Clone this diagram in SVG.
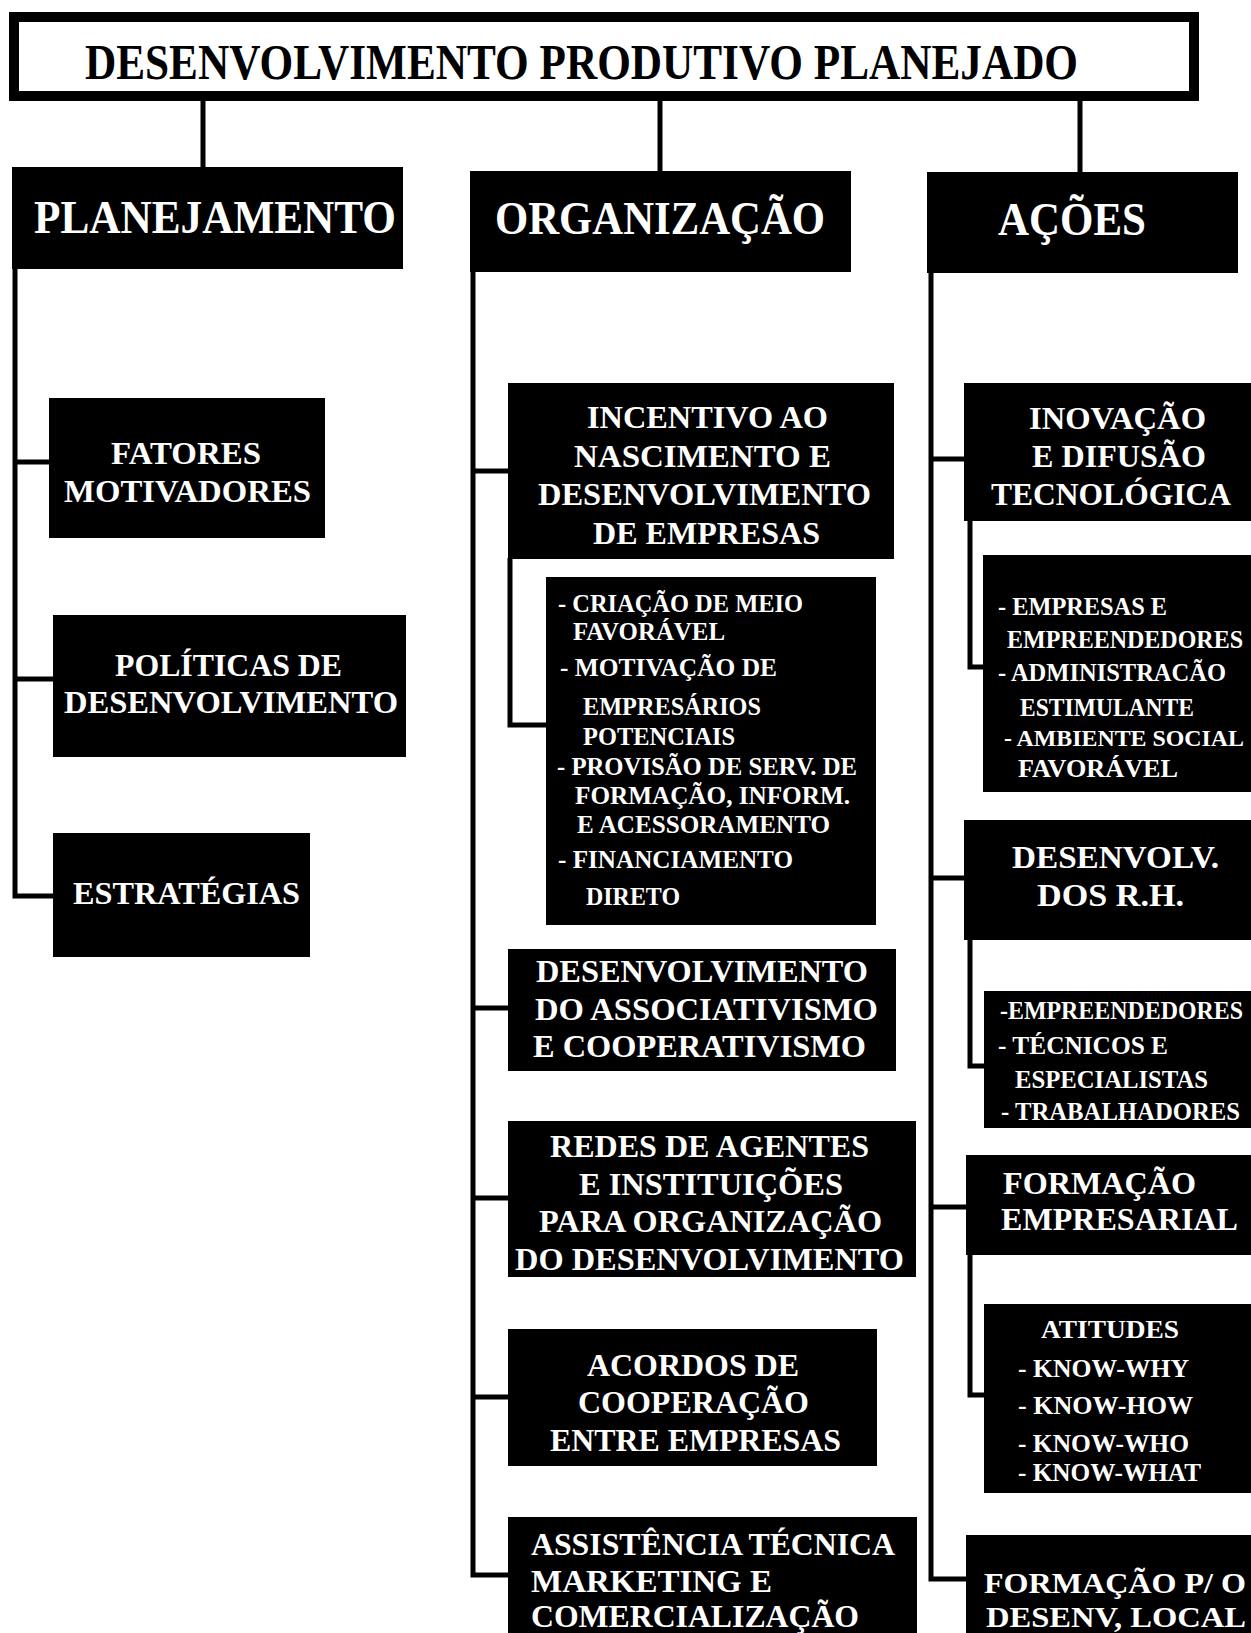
<svg xmlns="http://www.w3.org/2000/svg" width="1251" height="1633" viewBox="0 0 1251 1633">
<style>
.box{fill:#000}
.t{font-family:"Liberation Serif","Times New Roman",serif;font-weight:bold;fill:#fff}
.h{font-size:46px}
.m{font-size:32px}
.s{font-size:25px}
.conn{stroke:#000;stroke-width:5;fill:none}
</style>
<rect width="1251" height="1633" fill="#fff"/>
<g id="connectors">
<path class="conn" d="M203,100 V168 M660,100 V172 M1080,100 V172"/>
<path class="conn" d="M15,268 V896 H54 M15,462 H50 M15,679 H54"/>
<path class="conn" d="M473,271 V1575 H509 M473,471 H509 M473,1008 H509 M473,1198 H509 M473,1397 H509"/>
<path class="conn" d="M510,558 V725 H547"/>
<path class="conn" d="M931,272 V1579 H967 M931,459 H965 M931,878 H965 M931,1207 H967"/>
<path class="conn" d="M970,520 V667 H984 M970,939 V1066 H985 M970,1254 V1395 H985"/>
</g>
<g id="title">
<rect x="14" y="17" width="1180" height="79" fill="#fff" stroke="#000" stroke-width="10"/>
<text x="85" y="79" font-family="Liberation Serif, Times New Roman, serif" font-weight="bold" font-size="50" fill="#000" textLength="993" lengthAdjust="spacingAndGlyphs">DESENVOLVIMENTO PRODUTIVO PLANEJADO</text>
</g>
<g id="planejamento">
<rect class="box" x="12" y="167" width="391" height="102"/>
<text class="t h" x="34" y="233" textLength="362" lengthAdjust="spacingAndGlyphs">PLANEJAMENTO</text>
</g>
<g id="organizacao">
<rect class="box" x="470" y="171" width="381" height="101"/>
<text class="t h" x="495" y="234" textLength="330" lengthAdjust="spacingAndGlyphs">ORGANIZAÇÃO</text>
</g>
<g id="acoes">
<rect class="box" x="927" y="172" width="311" height="101"/>
<text class="t h" x="998" y="235" textLength="148" lengthAdjust="spacingAndGlyphs">AÇÕES</text>
</g>
<g id="fatores">
<rect class="box" x="49" y="398" width="276" height="140"/>
<text class="t m" x="111" y="464" textLength="150" lengthAdjust="spacingAndGlyphs">FATORES</text>
<text class="t m" x="64" y="502" textLength="247" lengthAdjust="spacingAndGlyphs">MOTIVADORES</text>
</g>
<g id="politicas">
<rect class="box" x="53" y="615" width="353" height="142"/>
<text class="t m" x="115" y="676" textLength="227" lengthAdjust="spacingAndGlyphs">POLÍTICAS DE</text>
<text class="t m" x="64" y="713" textLength="334" lengthAdjust="spacingAndGlyphs">DESENVOLVIMENTO</text>
</g>
<g id="estrategias">
<rect class="box" x="53" y="833" width="257" height="124"/>
<text class="t m" x="73" y="904" textLength="227" lengthAdjust="spacingAndGlyphs">ESTRATÉGIAS</text>
</g>
<g id="incentivo">
<rect class="box" x="508" y="383" width="386" height="176"/>
<text class="t m" x="587" y="428" textLength="241" lengthAdjust="spacingAndGlyphs">INCENTIVO AO</text>
<text class="t m" x="574" y="467" textLength="257" lengthAdjust="spacingAndGlyphs">NASCIMENTO  E</text>
<text class="t m" x="538" y="505" textLength="333" lengthAdjust="spacingAndGlyphs">DESENVOLVIMENTO</text>
<text class="t m" x="593" y="544" textLength="227" lengthAdjust="spacingAndGlyphs">DE EMPRESAS</text>
</g>
<g id="incentivo-itens">
<rect class="box" x="546" y="577" width="330" height="348"/>
<text class="t s" x="558" y="612" textLength="245" lengthAdjust="spacingAndGlyphs">- CRIAÇÃO DE MEIO</text>
<text class="t s" x="573" y="640" textLength="152" lengthAdjust="spacingAndGlyphs">FAVORÁVEL</text>
<text class="t s" x="560" y="676" textLength="217" lengthAdjust="spacingAndGlyphs">- MOTIVAÇÃO DE</text>
<text class="t s" x="583" y="715" textLength="178" lengthAdjust="spacingAndGlyphs">EMPRESÁRIOS</text>
<text class="t s" x="583" y="745" textLength="152" lengthAdjust="spacingAndGlyphs">POTENCIAIS</text>
<text class="t s" x="557" y="775" textLength="300" lengthAdjust="spacingAndGlyphs">- PROVISÃO DE SERV. DE</text>
<text class="t s" x="575" y="804" textLength="275" lengthAdjust="spacingAndGlyphs">FORMAÇÃO,  INFORM.</text>
<text class="t s" x="577" y="833" textLength="253" lengthAdjust="spacingAndGlyphs">E  ACESSORAMENTO</text>
<text class="t s" x="558" y="868" textLength="235" lengthAdjust="spacingAndGlyphs">- FINANCIAMENTO</text>
<text class="t s" x="586" y="905" textLength="94" lengthAdjust="spacingAndGlyphs">DIRETO</text>
</g>
<g id="associativismo">
<rect class="box" x="508" y="949" width="388" height="122"/>
<text class="t m" x="536" y="982" textLength="332" lengthAdjust="spacingAndGlyphs">DESENVOLVIMENTO</text>
<text class="t m" x="535" y="1020" textLength="343" lengthAdjust="spacingAndGlyphs">DO ASSOCIATIVISMO</text>
<text class="t m" x="533" y="1057" textLength="333" lengthAdjust="spacingAndGlyphs">E COOPERATIVISMO</text>
</g>
<g id="redes">
<rect class="box" x="508" y="1121" width="408" height="156"/>
<text class="t m" x="550" y="1157" textLength="319" lengthAdjust="spacingAndGlyphs">REDES DE AGENTES</text>
<text class="t m" x="579" y="1195" textLength="264" lengthAdjust="spacingAndGlyphs">E INSTITUIÇÕES</text>
<text class="t m" x="539" y="1232" textLength="343" lengthAdjust="spacingAndGlyphs">PARA ORGANIZAÇÃO</text>
<text class="t m" x="515" y="1270" textLength="389" lengthAdjust="spacingAndGlyphs">DO DESENVOLVIMENTO</text>
</g>
<g id="acordos">
<rect class="box" x="508" y="1329" width="369" height="137"/>
<text class="t m" x="587" y="1376" textLength="212" lengthAdjust="spacingAndGlyphs">ACORDOS DE</text>
<text class="t m" x="578" y="1413" textLength="231" lengthAdjust="spacingAndGlyphs">COOPERAÇÃO</text>
<text class="t m" x="550" y="1451" textLength="291" lengthAdjust="spacingAndGlyphs">ENTRE EMPRESAS</text>
</g>
<g id="assistencia">
<rect class="box" x="508" y="1517" width="409" height="116"/>
<text class="t m" x="531" y="1555" textLength="364" lengthAdjust="spacingAndGlyphs">ASSISTÊNCIA TÉCNICA</text>
<text class="t m" x="531" y="1592" textLength="241" lengthAdjust="spacingAndGlyphs">MARKETING  E</text>
<text class="t m" x="531" y="1627" textLength="328" lengthAdjust="spacingAndGlyphs">COMERCIALIZAÇÃO</text>
</g>
<g id="inovacao">
<rect class="box" x="964" y="383" width="287" height="138"/>
<text class="t m" x="1029" y="429" textLength="177" lengthAdjust="spacingAndGlyphs">INOVAÇÃO</text>
<text class="t m" x="1032" y="467" textLength="174" lengthAdjust="spacingAndGlyphs">E DIFUSÃO</text>
<text class="t m" x="991" y="505" textLength="240" lengthAdjust="spacingAndGlyphs">TECNOLÓGICA</text>
</g>
<g id="inovacao-itens">
<rect class="box" x="983" y="555" width="268" height="237"/>
<text class="t s" x="998" y="615" textLength="169" lengthAdjust="spacingAndGlyphs">- EMPRESAS E</text>
<text class="t s" x="1007" y="648" textLength="236" lengthAdjust="spacingAndGlyphs">EMPREENDEDORES</text>
<text class="t s" x="998" y="681" textLength="228" lengthAdjust="spacingAndGlyphs">- ADMINISTRACÃO</text>
<text class="t s" x="1020" y="716" textLength="174" lengthAdjust="spacingAndGlyphs">ESTIMULANTE</text>
<text class="t" font-size="23.5" x="1004" y="746" textLength="240" lengthAdjust="spacingAndGlyphs">- AMBIENTE SOCIAL</text>
<text class="t s" x="1018" y="777" textLength="160" lengthAdjust="spacingAndGlyphs">FAVORÁVEL</text>
</g>
<g id="recursos-humanos">
<rect class="box" x="964" y="820" width="287" height="120"/>
<text class="t m" x="1012" y="868" textLength="207" lengthAdjust="spacingAndGlyphs">DESENVOLV.</text>
<text class="t m" x="1037" y="906" textLength="147" lengthAdjust="spacingAndGlyphs">DOS  R.H.</text>
</g>
<g id="recursos-humanos-itens">
<rect class="box" x="984" y="991" width="267" height="137"/>
<text class="t s" x="1000" y="1019" textLength="243" lengthAdjust="spacingAndGlyphs">-EMPREENDEDORES</text>
<text class="t s" x="998" y="1054" textLength="170" lengthAdjust="spacingAndGlyphs">- TÉCNICOS E</text>
<text class="t s" x="1015" y="1088" textLength="193" lengthAdjust="spacingAndGlyphs">ESPECIALISTAS</text>
<text class="t s" x="1001" y="1120" textLength="239" lengthAdjust="spacingAndGlyphs">- TRABALHADORES</text>
</g>
<g id="formacao-empresarial">
<rect class="box" x="966" y="1155" width="285" height="100"/>
<text class="t m" x="1003" y="1194" textLength="193" lengthAdjust="spacingAndGlyphs">FORMAÇÃO</text>
<text class="t m" x="1001" y="1230" textLength="237" lengthAdjust="spacingAndGlyphs">EMPRESARIAL</text>
</g>
<g id="atitudes">
<rect class="box" x="984" y="1304" width="267" height="189"/>
<text class="t s" x="1041" y="1338" textLength="138" lengthAdjust="spacingAndGlyphs">ATITUDES</text>
<text class="t s" x="1018" y="1377" textLength="171" lengthAdjust="spacingAndGlyphs">- KNOW-WHY</text>
<text class="t s" x="1018" y="1414" textLength="175" lengthAdjust="spacingAndGlyphs">-  KNOW-HOW</text>
<text class="t s" x="1018" y="1452" textLength="171" lengthAdjust="spacingAndGlyphs">- KNOW-WHO</text>
<text class="t s" x="1018" y="1481" textLength="183" lengthAdjust="spacingAndGlyphs">- KNOW-WHAT</text>
</g>
<g id="formacao-local">
<rect class="box" x="966" y="1535" width="285" height="98"/>
<text class="t" font-size="30" x="984" y="1593" textLength="262" lengthAdjust="spacingAndGlyphs">FORMAÇÃO P/ O</text>
<text class="t" font-size="30" x="986" y="1627" textLength="260" lengthAdjust="spacingAndGlyphs">DESENV, LOCAL</text>
</g>
</svg>
